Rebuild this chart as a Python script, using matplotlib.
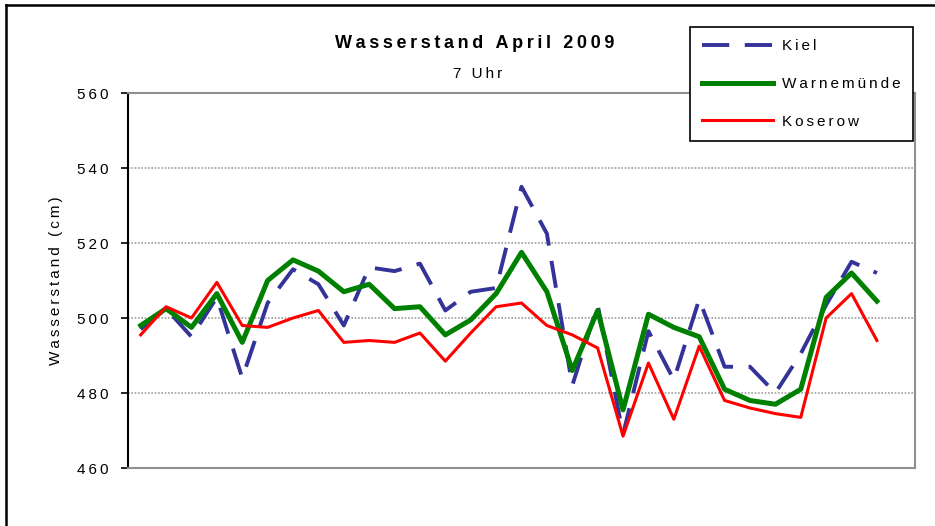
import numpy as np
import matplotlib
matplotlib.use("Agg")
import matplotlib.pyplot as plt
from matplotlib.lines import Line2D

plt.rcParams['font.family'] = ['Liberation Sans', 'DejaVu Sans']

# Wasserstand April 2009, 7 Uhr (cm)
days = list(range(1, 31))
kiel = [497, 502.5, 495, 505.5, 484, 504, 513, 509, 498, 513.5,
        512.5, 514.5, 502, 507, 508, 535, 522.5, 482, 503.5, 469,
        496.5, 483.5, 505, 487, 487, 480, 490.5, 503.5, 515, 512]
warnemuende = [498, 502.5, 497.5, 506.5, 493.5, 510, 515.5, 512.5, 507, 509,
               502.5, 503, 495.5, 499.5, 506.5, 517.5, 507, 486, 502, 475.5,
               501, 497.5, 495, 481, 478, 477, 481, 505.5, 512, 504.5]
koserow = [495.5, 503, 500, 509.5, 498, 497.5, 500, 502, 493.5, 494,
           493.5, 496, 488.5, 496, 503, 504, 498, 495.5, 492, 468.5,
           488, 473, 492.5, 478, 476, 474.5, 473.5, 500, 506.5, 494]
y_ticks = [460, 480, 500, 520, 540, 560]


def spaced(s, sp='\u2009'):
    # fake letter spacing like the excel export
    return sp.join(s)


W, H = 935, 526
fig = plt.figure(figsize=(W / 100, H / 100), dpi=100)
ax = fig.add_axes([128 / W, 1 - 468 / H, (915 - 128) / W, (468 - 93) / H])

ax.plot(days, kiel, color='#333399', lw=2.8, dashes=(7, 4), label=spaced('Kiel'))
ax.plot(days, warnemuende, color='#008000', lw=3.6, label=spaced('Warnemünde'))
ax.plot(days, koserow, color='#ff0000', lw=2.2, label=spaced('Koserow'))

ax.set_xlim(0.5, 31.5)
ax.set_ylim(460, 560)
ax.set_yticks(y_ticks)
ax.set_yticklabels([spaced(str(t)) for t in y_ticks])
ax.set_xticks([])
ax.tick_params(axis='y', labelsize=11, length=5, width=1.2, direction='out', pad=9)
ax.yaxis.grid(True, color='#a0a0a0', lw=1.2, ls=(0, (1, 1)))
ax.set_axisbelow(True)
ax.set_ylabel(spaced('Wasserstand (cm)'), fontsize=11, labelpad=10)

ax.spines['left'].set_color('black')
ax.spines['left'].set_linewidth(1.5)
for s in ['top', 'right', 'bottom']:
    ax.spines[s].set_color('#909090')
    ax.spines[s].set_linewidth(1.5)

fig.text(475 / W, 1 - 43 / H, spaced('Wasserstand April 2009'), ha='center', va='center',
         fontsize=13, fontweight='bold')
fig.text(478 / W, 1 - 74 / H, spaced('7 Uhr'), ha='center', va='center', fontsize=11)

leg = ax.legend(loc='upper left', bbox_to_anchor=(690 / W, 1 - 27 / H),
                bbox_transform=fig.transFigure, fontsize=11, frameon=True,
                fancybox=False, edgecolor='black', framealpha=1,
                handlelength=4.6, labelspacing=1.55, borderpad=0.8,
                handletextpad=0.6, borderaxespad=0)
leg.get_frame().set_linewidth(1.2)

# outer chart border (clipped at right and bottom)
fig.add_artist(Line2D([6 / W, 6 / W], [0, 1 - 5 / H], color='black', lw=1.8,
                      transform=fig.transFigure))
fig.add_artist(Line2D([6 / W, 1], [1 - 5 / H, 1 - 5 / H], color='black', lw=1.8,
                      transform=fig.transFigure))

fig.savefig('out.png', dpi=100)
